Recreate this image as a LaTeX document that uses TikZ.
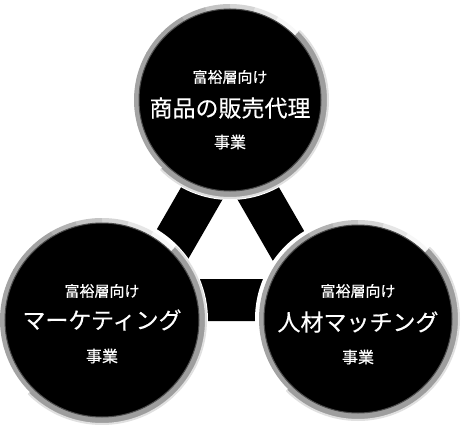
\documentclass[tikz,border=0pt]{standalone}
\usepackage{fontspec}
\newfontfamily\jpfont[FakeBold=0.35]{Noto Sans CJK JP}
\usepackage{tikz}
\usetikzlibrary{positioning}

\begin{document}
\begin{tikzpicture}[x=1pt, y=1pt,
        disk/.style={circle, fill=black, draw=black!70, line width=1pt, inner sep=0pt},
        bar/.style={line width=42pt, line join=miter},
        lowring/.style={line width=7pt, draw=black!38},
        highring/.style={line width=5pt},
        fade/.style={line width=2pt, draw=black!12},
        sub/.style={text=white, font=\jpfont\fontsize{15}{18}\selectfont},
        main/.style={text=white, font=\jpfont\fontsize{23}{28}\selectfont},
        biz/.style={text=white, font=\jpfont\fontsize{16}{19}\selectfont}]
    \useasboundingbox (0,0) rectangle (461,424);
    % bars between the three circles
    \coordinate (bT) at (230,279.5);
    \coordinate (bL) at (140.3,124);
    \coordinate (bR) at (319.7,124);
    \draw[bar] (bT) -- (bL) -- (bR) -- cycle;
    % rings round the circles
    \foreach \c/\r in {{230,324}/91, {102,104}/97, {358,105}/94}{
        \fill[white] (\c) circle[radius=\r+9];
        \draw[lowring] (\c) ++(45:{\r+3.5}) arc[start angle=45, end angle=-135, radius=\r+3.5];
        \draw[fade] (\c) ++(45:{\r+7}) arc[start angle=45, end angle=-135, radius=\r+7];
        \foreach \a in {45,60,...,210}{
            \pgfmathsetmacro\p{min(36,3+(\a-45)*0.45)}
            \draw[highring, draw=black!\p] (\c) ++(\a:{\r+2.5})
                arc[start angle=\a, delta angle=15.5, radius=\r+2.5];
        }
    }
    \node[disk, minimum size=182pt] (SP) at (230,324) {};
    \node[disk, minimum size=194pt] (MK) at (102,104) {};
    \node[disk, minimum size=188pt] (HR) at (358,105) {};
    % texts
    \node[main] (SP-main) at ([yshift=-8pt]SP.center) {商品の販売代理};
    \node[sub, on grid, above=31pt of SP-main] (SP-sub) {富裕層向け};
    \node[biz, on grid, below=34pt of SP-main] (SP-biz) {事業};
    \node[main] (MK-main) at (MK.center) {マーケティング};
    \node[sub, on grid, above=29pt of MK-main] (MK-sub) {富裕層向け};
    \node[biz, on grid, below=36pt of MK-main] (MK-biz) {事業};
    \node[main] (HR-main) at ([yshift=-3pt]HR.center) {人材マッチング};
    \node[sub, on grid, above=31pt of HR-main] (HR-sub) {富裕層向け};
    \node[biz, on grid, below=35pt of HR-main] (HR-biz) {事業};
\end{tikzpicture}
\end{document}
